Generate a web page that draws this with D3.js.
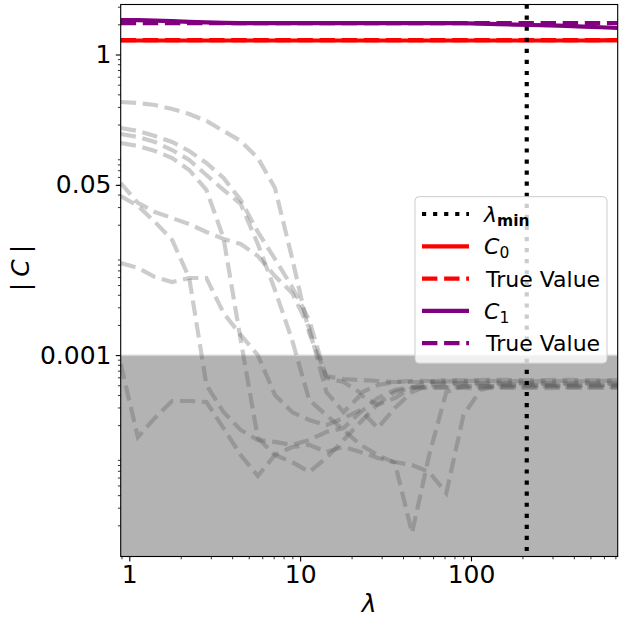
<!DOCTYPE html>
<html><head><meta charset="utf-8">
<script src="https://cdn.jsdelivr.net/npm/d3@7"></script>
<style>body{margin:0;background:#fff}svg{display:block}text{font-family:"DejaVu Sans",sans-serif}</style>
</head><body><svg id="chart" width="619" height="619"></svg>
<script>
// ---------- data ----------
const lambdas = [0.8905,1.122,1.413,1.781,2.243,2.827,3.561,4.487,5.652,7.121,8.971,11.30,14.24,17.94,22.59,28.47,35.86,45.19,56.92,71.72,90.35,113.8,143.4,180.6,227.6,286.7,361.3,455.1,573.4,722.3];
const lambdaMin = 212;
const threshold = 0.001;
const trueC0 = 1.39;
const trueC1 = 2.06;
const estC0 = [1.38,1.38,1.38,1.38,1.38,1.38,1.38,1.38,1.38,1.38,1.38,1.38,1.38,1.38,1.38,1.38,1.38,1.38,1.38,1.38,1.38,1.38,1.38,1.38,1.38,1.38,1.38,1.38,1.385,1.39];
const estC1 = [2.21,2.20,2.18,2.15,2.12,2.09,2.07,2.06,2.06,2.06,2.06,2.06,2.06,2.06,2.06,2.06,2.06,2.06,2.06,2.06,2.05,2.03,2.01,1.99,1.97,1.95,1.93,1.90,1.87,1.84];
const noise1 = [0.336,0.328,0.313,0.286,0.255,0.217,0.1725,0.137,0.0927,0.0466,0.00931,0.00166,0.000618,0.000577,0.000564,0.000551,0.000539,0.000539,0.000539,0.000527,0.00053,0.000527,0.000525,0.000527,0.00053,0.000527,0.000524,0.000527,0.00053,0.000528];
const noise2 = [0.1847,0.1724,0.1537,0.1338,0.1088,0.0826,0.0586,0.0353,0.01693,0.0091,0.00479,0.00224,0.000591,0.000539,0.000419,0.000503,0.000539,0.000553,0.000551,0.000546,0.000551,0.000555,0.000549,0.000551,0.000546,0.000552,0.000551,0.000548,0.000553,0.000551];
const noise3 = [0.1609,0.1502,0.1338,0.1114,0.0885,0.0627,0.0445,0.0322,0.01285,0.00447,0.001415,0.000356,0.000252,0.000179,0.000127,0.0001007,0.0000838,0.0000168,0.0001007,0.000428,0.000492,0.000492,0.000488,0.000492,0.000496,0.000492,0.000489,0.000492,0.000495,0.000492];
const noise4 = [0.1308,0.1221,0.1088,0.0927,0.0704,0.0445,0.01475,0.001415,0.000149,0.0001007,0.0000857,0.0000681,0.000094,0.000142,0.000215,0.000325,0.000428,0.00047,0.00047,0.000474,0.00047,0.000467,0.00047,0.000473,0.00047,0.000468,0.00047,0.000472,0.00047,0.00047];
const noise5 = [0.0522,0.033,0.0268,0.0233,0.0203,0.01693,0.01442,0.01285,0.00975,0.00615,0.00417,0.00186,0.000428,0.00027,0.0004,0.000318,0.000373,0.00047,0.000539,0.000564,0.00056,0.000564,0.000567,0.000564,0.000561,0.000564,0.000566,0.000564,0.000561,0.000564];
const noise6 = [0.0387,0.0308,0.0213,0.01409,0.00588,0.000503,0.00027,0.000179,0.000142,0.000136,0.000127,0.000142,0.000171,0.000187,0.00027,0.000373,0.000449,0.000481,0.000481,0.000478,0.000481,0.000484,0.000481,0.000478,0.000481,0.000484,0.000481,0.000478,0.000481,0.000481];
const noise7 = [0.0083,0.0074,0.00602,0.00536,0.00588,0.00588,0.00263,0.00159,0.001,0.0004,0.00027,0.000225,0.0002,0.000236,0.000283,0.000187,0.000296,0.000428,0.000503,0.000515,0.000515,0.000512,0.000515,0.000518,0.000515,0.000512,0.000515,0.000518,0.000515,0.000515];
const noise8 = [0.000815,0.000152,0.000236,0.000348,0.000348,0.00034,0.000187,0.0001007,0.0000621,0.0001007,0.000121,0.000127,0.000108,0.000121,0.000108,0.000094,0.0000857,0.00008,0.0000681,0.000042,0.000252,0.000449,0.000503,0.000506,0.000503,0.0005,0.000503,0.000506,0.000503,0.000503];
const noisePaths = [noise1,noise2,noise3,noise4,noise5,noise6,noise7,noise8];
const xTickValues = [1,10,100];
const xTickLabels = ["1","10","100"];
const yTickValues = [1,0.05,0.001];
const yTickLabels = ["1","0.05","0.001"];
const xDomain = [0.8905,722.3];
const yDomain = [9.77e-6,3.155];

// ---------- layout ----------
const plot = {left:120.7,right:617.7,top:4.5,bottom:556.5};
const svg = d3.select("#chart");
const x = d3.scaleLog().domain(xDomain).range([plot.left,plot.right]);
const y = d3.scaleLog().domain(yDomain).range([plot.bottom,plot.top]);

svg.append("defs").append("clipPath").attr("id","clip").append("rect")
  .attr("x",plot.left).attr("y",plot.top).attr("width",plot.right-plot.left).attr("height",plot.bottom-plot.top);

const g = svg.append("g").attr("clip-path","url(#clip)");
g.append("rect").attr("x",plot.left).attr("width",plot.right-plot.left)
  .attr("y",y(threshold)).attr("height",plot.bottom-y(threshold)).attr("fill","#b3b3b3");
g.append("rect").attr("x",plot.left).attr("width",plot.right-plot.left)
  .attr("y",y(threshold)-0.5).attr("height",1.5).attr("fill","#d4d4d4");

const line = d3.line().x((d,i)=>x(lambdas[i])).y(d=>y(d));
const hline = v => d3.line().x(d=>x(d)).y(()=>y(v))(xDomain);

noisePaths.forEach(arr=>{
  g.append("path").attr("d",line(arr)).attr("fill","none")
   .attr("stroke","#555").attr("stroke-opacity",0.3).attr("stroke-width",4.17)
   .attr("stroke-dasharray","15.4,6.7");
});

g.append("path").attr("d",hline(trueC0)).attr("fill","none").attr("stroke","#ff0000").attr("stroke-width",4.17).attr("stroke-dasharray","15.4,6.7");
g.append("path").attr("d",line(estC0)).attr("fill","none").attr("stroke","#ff0000").attr("stroke-width",4.17);
g.append("path").attr("d",line(estC1)).attr("fill","none").attr("stroke","#800080").attr("stroke-width",4.17);
g.append("path").attr("d",hline(trueC1)).attr("fill","none").attr("stroke","#800080").attr("stroke-width",4.17).attr("stroke-dasharray","15.4,6.7");

g.append("line").attr("x1",x(lambdaMin)).attr("x2",x(lambdaMin)).attr("y1",plot.top).attr("y2",plot.bottom)
  .attr("stroke","#000").attr("stroke-width",4.17).attr("stroke-dasharray","4.17,6.9");

// ---------- axes ----------
const minorX = [];
for (let e=-1;e<=2;e++) for (let m=2;m<=9;m++){const v=m*Math.pow(10,e); if(v>=xDomain[0]&&v<=xDomain[1]) minorX.push(v);}
const minorY = [];
for (let e=-6;e<=0;e++) for (let m=2;m<=9;m++){const v=m*Math.pow(10,e); if(v>=yDomain[0]&&v<=yDomain[1]) minorY.push(v);}

function style(sel,w){
  sel.select(".domain").remove();
  sel.selectAll("line").attr("stroke","#000").attr("stroke-width",w);
  sel.attr("font-size",25).attr("font-family","DejaVu Sans");
  sel.selectAll("text").attr("fill","#000");
}
const gxm = svg.append("g").attr("transform",`translate(0,${plot.bottom})`)
  .call(d3.axisBottom(x).tickValues(minorX).tickFormat("").tickSizeInner(2.8).tickSizeOuter(0));
style(gxm,0.8);
const gx = svg.append("g").attr("transform",`translate(0,${plot.bottom})`)
  .call(d3.axisBottom(x).tickValues(xTickValues).tickFormat((d,i)=>xTickLabels[i]).tickSizeInner(4.9).tickSizeOuter(0).tickPadding(3.5));
style(gx,1.1);
const gym = svg.append("g").attr("transform",`translate(${plot.left},0)`)
  .call(d3.axisLeft(y).tickValues(minorY).tickFormat("").tickSizeInner(2.8).tickSizeOuter(0));
style(gym,0.8);
const gy = svg.append("g").attr("transform",`translate(${plot.left},0)`)
  .call(d3.axisLeft(y).tickValues(yTickValues).tickFormat((d,i)=>yTickLabels[i]).tickSizeInner(4.9).tickSizeOuter(0).tickPadding(4.3));
style(gy,1.1);

svg.append("rect").attr("x",plot.left).attr("y",plot.top).attr("width",plot.right-plot.left).attr("height",plot.bottom-plot.top)
  .attr("fill","none").attr("stroke","#000").attr("stroke-width",1.1);

// axis labels
svg.append("text").attr("x",(plot.left+plot.right)/2).attr("y",612).attr("text-anchor","middle")
  .attr("font-size",25).attr("font-style","italic").text("λ");
const yl = svg.append("text").attr("transform","translate(29,268) rotate(-90)")
  .attr("text-anchor","middle").attr("font-size",25);
yl.append("tspan").text("|");
yl.append("tspan").attr("font-style","italic").attr("dx",6).text("C");
yl.append("tspan").attr("dx",6).text("|");

// ---------- legend ----------
const lg = svg.append("g");
lg.append("rect").attr("x",415).attr("y",196.7).attr("width",192).attr("height",166.5).attr("rx",4)
  .attr("fill","#fff").attr("fill-opacity",0.8).attr("stroke","#cccccc").attr("stroke-width",1);
const rows = [
  {color:"#000",dash:"4.17,6.9",main:"λ",sub:"min",italic:true,bold:true},
  {color:"#ff0000",dash:null,main:"C",sub:"0",italic:true,bold:false},
  {color:"#ff0000",dash:"15.4,6.7",main:"True Value",sub:null,italic:false},
  {color:"#800080",dash:null,main:"C",sub:"1",italic:true,bold:false},
  {color:"#800080",dash:"15.4,6.7",main:"True Value",sub:null,italic:false}
];
rows.forEach((r,i)=>{
  const cy = 214 + 32.3*i;
  const ln = lg.append("line").attr("x1",422).attr("x2",469).attr("y1",cy).attr("y2",cy)
    .attr("stroke",r.color).attr("stroke-width",4.17);
  if (r.dash) ln.attr("stroke-dasharray",r.dash);
  const t = lg.append("text").attr("x",r.italic?484:486).attr("y",cy+8).attr("font-size",22);
  const m = t.append("tspan").text(r.main);
  if (r.italic) m.attr("font-style","italic");
  if (r.sub) t.append("tspan").attr("font-size",15.5).attr("dy",4).attr("font-weight",r.bold?"bold":"normal").text(r.sub);
});
</script></body></html>
